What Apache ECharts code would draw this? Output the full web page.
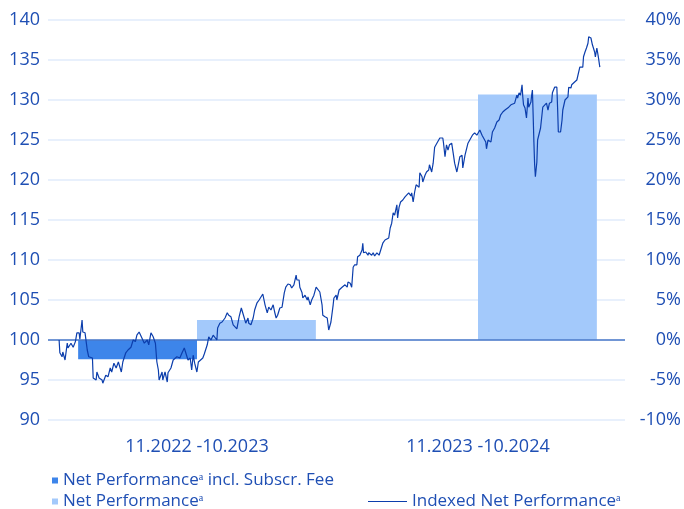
<!DOCTYPE html>
<html>
<head>
<meta charset="utf-8">
<script src="https://cdn.jsdelivr.net/npm/echarts@6/dist/echarts.min.js"></script>
<style>html,body{margin:0;padding:0;background:#fff;}#c{width:684px;height:509px;}</style>
</head>
<body>
<div id="c"></div>
<script>
// ---- data ----
const periods = ['11.2022 -10.2023', '11.2023 -10.2024'];
const perfInclFee = [-2.4, null];     // Net Performance incl. Subscr. Fee (%)
const perfNet = [2.5, 30.7];          // Net Performance (%)
const leftTicks = [90, 95, 100, 105, 110, 115, 120, 125, 130, 135, 140];
const rightTicks = [-10, -5, 0, 5, 10, 15, 20, 25, 30, 35, 40];
// indexed net performance: calendar days since 01.11.2022 and index value
const indexDays = [0,1,4,5,8,11,12,16,19,22,24,27,28,31,32,35,38,40,45,46,50,51,54,58,59,63,66,69,71,74,77,80,84,86,90,93,97,100,103,105,108,111,113,115,119,121,124,127,130,132,134,135,139,140,143,146,147,151,154,156,159,163,166,169,171,174,177,179,181,183,186,188,190,194,196,200,202,205,208,210,213,214,217,220,221,224,227,229,232,235,237,240,243,246,248,250,252,255,256,259,262,264,267,270,272,275,278,281,283,286,289,291,293,295,298,301,304,306,309,312,314,317,320,321,324,325,328,329,332,335,336,339,341,344,347,349,352,355,356,359,362,364,367,370,371,374,375,378,382,383,386,389,390,393,395,397,399,402,403,406,409,410,411,414,417,418,422,424,426,429,432,434,437,440,442,445,447,449,451,453,456,457,459,461,464,467,469,472,475,476,478,480,482,483,486,487,490,491,494,495,496,499,500,503,505,507,510,511,514,518,519,521,523,525,527,530,532,534,537,538,541,544,545,548,550,552,554,558,561,564,568,571,573,576,577,579,583,585,588,591,594,596,599,602,604,607,610,612,615,618,619,621,623,625,626,627,629,631,633,634,637,638,639,640,641,642,643,645,646,648,650,653,655,658,660,662,665,666,669,672,673,674,677,679,680,683,685,687,688,691,692,693,696,699,701,703,704,707,708,710,712,714,715,718,719,720,723,724,726,728,730];
const indexValues = [100,98.4,97.9,98.5,97.5,99.6,99,99.6,99.1,99.8,100.9,100.9,100.1,102.5,101,100.9,98.75,97.9,97.75,95.25,95,96,95.25,95,94.6,95.6,95.4,96.5,96,97.1,96.5,97.25,96,97.25,98.4,98.75,99.1,100,99.8,100.6,101,100.4,100.6,99.6,100,99.4,100.9,100.4,99.6,97.25,96.25,95,96,95,96,94.75,95.9,96.5,97.5,97.25,97.9,97.75,98.4,99,98.4,97.5,97.75,96.25,98.1,97.1,96,97.25,97.5,97.75,98.25,99.4,100.4,100,100.6,100.75,100,101.5,102.1,102.25,102.25,102.75,103.4,103.1,102.9,101.9,102.1,101.4,102.9,104,104.1,102.75,102.1,102.75,102.1,101.9,102.75,103.75,104.6,105,105.25,105.75,104.4,103.4,104.1,103.75,104.4,103.5,102.75,103.1,104,104.1,105.9,106.6,107,106.9,106.5,106.9,108.1,107.5,107.5,106.6,105.9,105.25,105.6,105,105.4,104.4,105,105.6,106.6,106.5,106,104.4,103.1,102.9,102.75,101.25,102.25,104.4,105.25,105.6,105,106.25,106.6,106.5,106.9,106.6,107.25,107.1,106.6,109.1,109.4,109.4,110.4,110.6,111.25,112.1,110.9,111,110.6,110.9,110.6,110.9,110.5,110.9,110.6,110.6,112.1,112.5,112.25,112.75,114,114.6,115.9,115.6,116.9,115.25,116.6,117.25,117.5,117.9,117.75,118.4,118,118.4,117.25,118.5,119.4,119.6,119.1,120.9,120.4,119.75,120.6,120.4,121,121.25,121.9,121,122.1,124.1,124.6,124.4,125.25,125.25,124.6,122.9,124.4,123.75,124.4,124.6,123.4,122.1,121,121,122.9,123.1,121.5,123.1,123.1,124.6,124.6,125.6,125.9,125.6,126.25,125.6,125.4,124.75,123.9,125,124.75,126,126.5,127.25,127.5,128.1,128.5,128.75,129,129.1,129.4,129.4,129.6,130.6,130.25,130.9,130.6,131.9,130.4,129.4,129,127.75,130.25,129.1,129.75,130.6,131.25,128.1,124.75,121.9,120.4,122.25,125,125,126.5,129.1,129,129.6,128.75,129.6,129.75,130.9,131.6,131.6,129,126,126,127.5,128.75,130,130.25,130.4,131.6,131.5,131.9,132.1,132.25,132.5,132.75,134.1,134,134.1,135.4,136,136.5,137.1,137.9,137.75,137.5,136.9,136,135.4,136.5,135.4,134.1];

const names = ['Net Performance\u1d43 incl. Subscr. Fee', 'Net Performance\u1d43', 'Indexed Net Performance\u1d43'];

const blue = '#1f4fb4';
const FONT = 'Open Sans';
const legendText = { color: blue, fontSize: 17, fontFamily: FONT };
const chart = echarts.init(document.getElementById('c'));
chart.setOption({
  animation: false,
  backgroundColor: '#fff',
  textStyle: { fontFamily: FONT, color: blue },
  grid: [
    { left: 48, right: 59, top: 20, bottom: 89 },
    { left: 56.5, right: 65.5, top: 20, bottom: 89 }
  ],
  xAxis: [
    { gridIndex: 0, type: 'value', min: -15, max: 764, show: false },
    { gridIndex: 1, type: 'category', data: periods,
      axisLine: { show: false }, axisTick: { show: false },
      axisLabel: { color: blue, fontSize: 18, margin: 18, fontFamily: FONT } }
  ],
  yAxis: [
    { gridIndex: 0, type: 'value', min: leftTicks[0], max: leftTicks[leftTicks.length-1], interval: 5,
      axisLine: { show: false }, axisTick: { show: false },
      axisLabel: { color: blue, fontSize: 18, margin: 8, fontFamily: FONT },
      splitLine: { lineStyle: { color: '#e0ebfb', width: 1.5 } } },
    { gridIndex: 0, type: 'value', position: 'right', min: rightTicks[0], max: rightTicks[rightTicks.length-1], interval: 5,
      axisLine: { show: false }, axisTick: { show: false },
      axisLabel: { color: blue, fontSize: 18, margin: 56, align: 'right', formatter: '{value}%', fontFamily: FONT },
      splitLine: { show: false } },
    { gridIndex: 1, type: 'value', min: rightTicks[0], max: rightTicks[rightTicks.length-1], interval: 5, show: false }
  ],
  legend: [
    { data: [names[0]], left: 47, top: 467, itemWidth: 6, itemHeight: 6, icon: 'rect', textStyle: legendText },
    { data: [names[1]], left: 47, top: 488, itemWidth: 6, itemHeight: 6, icon: 'rect', textStyle: legendText },
    { data: [{ name: names[2], icon: 'rect' }], left: 363, top: 488,
      itemWidth: 39, itemHeight: 1, textStyle: legendText }
  ],
  series: [
    { name: names[0], type: 'bar', xAxisIndex: 1, yAxisIndex: 2, data: perfInclFee,
      barWidth: '42.3%', barGap: '0%', itemStyle: { color: '#3d85ea' }, z: 2 },
    { name: names[1], type: 'bar', xAxisIndex: 1, yAxisIndex: 2, data: perfNet,
      barWidth: '42.3%', barGap: '0%', itemStyle: { color: '#a3c9fb' }, z: 2 },
    { name: names[2], type: 'line', xAxisIndex: 0, yAxisIndex: 0,
      data: indexDays.map((d, i) => [d, indexValues[i]]),
      showSymbol: false, lineStyle: { color: '#0c3eac', width: 1.2 }, itemStyle: { color: '#0c3eac' },
      z: 5,
      markLine: { silent: true, symbol: 'none', label: { show: false },
        lineStyle: { color: '#4a78c8', width: 1.5, type: 'solid' },
        data: [{ yAxis: 100 }] } }
  ]
});
</script>
</body>
</html>
